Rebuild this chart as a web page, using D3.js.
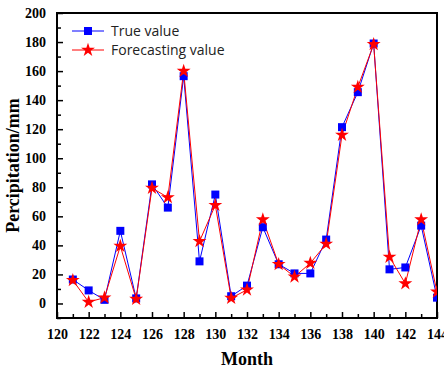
<!DOCTYPE html>
<html>
<head>
<meta charset="utf-8">
<script src="https://cdn.jsdelivr.net/npm/d3@7"></script>
<style>
  body { margin: 0; background: #fff; }
  svg { display: block; }
</style>
</head>
<body>
<div id="chart"></div>
<script>
// months on the x axis
var months = [121, 122, 123, 124, 125, 126, 127, 128, 129, 130, 131, 132,
              133, 134, 135, 136, 137, 138, 139, 140, 141, 142, 143, 144];
// observed precipitation
var trueValues = [16.5, 9, 2.5, 50, 3.5, 82, 66, 156.5, 29, 75, 5, 12.3,
                  52.5, 27, 20.7, 20.7, 44, 121.4, 145.5, 179, 23.5, 24.8, 53.6, 4];
// model output
var forecastValues = [16, 1, 4, 39.5, 3, 79.5, 73, 160, 42.8, 67.7, 3.7, 9.4,
                      57.8, 27, 18.4, 27.8, 41, 116, 149, 178.4, 32, 13.7, 57.8, 8];
var xTicks = [120, 122, 124, 126, 128, 130, 132, 134, 136, 138, 140, 142, 144];
var yTicks = [0, 20, 40, 60, 80, 100, 120, 140, 160, 180, 200];

var margin = { top: 13, right: 7, bottom: 53, left: 57 },
    width = 444 - margin.left - margin.right,
    height = 371 - margin.top - margin.bottom;

var svg = d3.select("#chart")
    .append("svg")
    .attr("width", 444)
    .attr("height", 371)
    .append("g")
    .attr("transform", "translate(" + margin.left + "," + margin.top + ")");

var x = d3.scaleLinear().domain([120, 144]).range([0, width]);
var y = d3.scaleLinear().domain([-10, 200]).range([height, 0]);

// clip so the last markers are cut at the frame like the original
svg.append("clipPath").attr("id", "plotClip")
    .append("rect").attr("width", width).attr("height", height);

var serif = "'Liberation Serif', 'Times New Roman', serif";

// minor ticks (inside)
svg.append("g")
    .attr("transform", "translate(0," + height + ")")
    .call(d3.axisBottom(x).tickValues(d3.range(121, 144, 2)).tickSize(-4).tickFormat(""))
    .call(g => g.select(".domain").remove())
    .selectAll("line").attr("stroke-width", 1.5);
svg.append("g")
    .call(d3.axisLeft(y).tickValues(d3.range(-10, 200, 20)).tickSize(-4).tickFormat(""))
    .call(g => g.select(".domain").remove())
    .selectAll("line").attr("stroke-width", 1.5);

// major ticks
var xAxis = svg.append("g")
    .attr("transform", "translate(0," + height + ")")
    .call(d3.axisBottom(x).tickValues(xTicks).tickSize(-6).tickPadding(11));
var yAxis = svg.append("g")
    .call(d3.axisLeft(y).tickValues(yTicks).tickSize(-6).tickPadding(11));

[xAxis, yAxis].forEach(function (g) {
    g.select(".domain").remove();
    g.attr("font-family", serif).attr("font-size", 14);
    g.selectAll("line").attr("stroke-width", 1.5);
    g.selectAll("text")
        .style("font-family", serif)
        .style("font-weight", "bold")
        .style("font-size", "14px")
        .attr("fill", "#000");
});

// frame
svg.append("rect")
    .attr("width", width)
    .attr("height", height)
    .attr("fill", "none")
    .attr("stroke", "#000")
    .attr("stroke-width", 2);

var plot = svg.append("g").attr("clip-path", "url(#plotClip)");

var trueData = months.map(function (m, i) { return { month: m, value: trueValues[i] }; });
var fcData = months.map(function (m, i) { return { month: m, value: forecastValues[i] }; });

var line = d3.line()
    .x(function (d) { return x(d.month); })
    .y(function (d) { return y(d.value); });

plot.append("path")
    .datum(trueData)
    .attr("fill", "none")
    .attr("stroke", "#0000ff")
    .attr("stroke-width", 1)
    .attr("d", line);

plot.append("path")
    .datum(fcData)
    .attr("fill", "none")
    .attr("stroke", "#ff0000")
    .attr("stroke-width", 1)
    .attr("d", line);

var square = d3.symbol().type(d3.symbolSquare).size(64);
var star = d3.symbol().type(d3.symbolStar).size(60);

plot.selectAll(".sq")
    .data(trueData)
    .enter().append("path")
    .attr("class", "sq")
    .attr("d", square)
    .attr("fill", "#0000ff")
    .attr("transform", function (d) { return "translate(" + x(d.month) + "," + y(d.value) + ")"; });

plot.selectAll(".st")
    .data(fcData)
    .enter().append("path")
    .attr("class", "st")
    .attr("d", star)
    .attr("fill", "#ff0000")
    .attr("transform", function (d) { return "translate(" + x(d.month) + "," + y(d.value) + ")"; });

// legend
var legend = svg.append("g").attr("transform", "translate(15,18)");
var items = [
    { label: "True value", color: "#0000ff", sym: square },
    { label: "Forecasting value", color: "#ff0000", sym: star }
];
items.forEach(function (it, i) {
    var g = legend.append("g").attr("transform", "translate(0," + (i * 19) + ")");
    g.append("line").attr("x1", 0).attr("x2", 32).attr("stroke", it.color).attr("stroke-width", 1);
    g.append("path").attr("d", it.sym).attr("fill", it.color).attr("transform", "translate(16,0)");
    g.append("text")
        .attr("x", 39)
        .attr("y", 5)
        .attr("font-family", "'Open Sans', sans-serif")
        .attr("font-size", 14)
        .attr("fill", "#222")
        .text(it.label);
});

// axis titles
svg.append("text")
    .attr("x", width / 2)
    .attr("y", height + 47)
    .attr("text-anchor", "middle")
    .attr("font-family", serif)
    .attr("font-weight", "bold")
    .attr("font-size", 18)
    .text("Month");

svg.append("text")
    .attr("transform", "translate(" + (-38) + "," + (height / 2) + ") rotate(-90)")
    .attr("text-anchor", "middle")
    .attr("font-family", serif)
    .attr("font-weight", "bold")
    .attr("font-size", 18)
    .text("Percipitation/mm");
</script>
</body>
</html>
